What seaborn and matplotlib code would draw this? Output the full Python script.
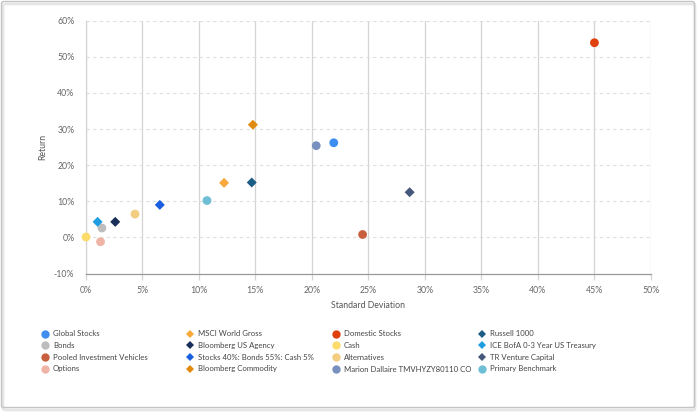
import matplotlib
matplotlib.use("Agg")
import matplotlib.pyplot as plt
import seaborn as sns
import pandas as pd
from matplotlib.lines import Line2D
from matplotlib.patches import FancyBboxPatch
from matplotlib.ticker import FuncFormatter, MultipleLocator

names = [
    "Global Stocks", "MSCI World Gross", "Domestic Stocks", "Russell 1000",
    "Bonds", "Bloomberg US Agency", "Cash", "ICE BofA 0-3 Year US Treasury",
    "Pooled Investment Vehicles", "Stocks 40%: Bonds 55%: Cash 5%", "Alternatives", "TR Venture Capital",
    "Options", "Bloomberg Commodity", "Marion Dallaire TMVHYZY80110 CO", "Primary Benchmark",
]
std_dev = [21.95, 12.25, 45.0, 14.7,
           1.45, 2.63, 0.05, 1.07,
           24.5, 6.57, 4.38, 28.66,
           1.33, 14.8, 20.4, 10.74]
returns = [26.2, 15.1, 53.9, 15.2,
           2.6, 4.3, 0.1, 4.3,
           0.8, 9.0, 6.45, 12.5,
           -1.2, 31.2, 25.4, 10.2]
shapes = ["o", "D", "o", "D",
          "o", "D", "o", "D",
          "o", "D", "o", "D",
          "o", "D", "o", "o"]
colors = ["#3d8ef0", "#f9a93a", "#e0400e", "#1b5d85",
          "#bdbdbd", "#1a2e5a", "#fddc6b", "#1e9de0",
          "#c8603f", "#1a5fe0", "#f3cd80", "#45577a",
          "#f0b4a6", "#e08a0e", "#7890c0", "#6ebfd6"]

df = pd.DataFrame({"name": names, "sd": std_dev, "ret": returns})

sns.set_theme(style="white")
plt.rcParams["font.family"] = ["Lato", "DejaVu Sans"]

W, H = 697, 416
fig = plt.figure(figsize=(W / 100, H / 100), dpi=100)
shadow = FancyBboxPatch((3 / W, 1 - 410 / H), 692 / W, 406 / H,
                        boxstyle="round,pad=0,rounding_size=0.004",
                        transform=fig.transFigure, facecolor="none", edgecolor="#e6e6e6",
                        linewidth=2.0, zorder=4)
border = FancyBboxPatch((1.5 / W, 1 - 407.5 / H), 693 / W, 406 / H,
                        boxstyle="round,pad=0,rounding_size=0.004",
                        transform=fig.transFigure, facecolor="none", edgecolor="#c4c4c4",
                        linewidth=1.0, zorder=5)
fig.patches.extend([shadow, border])

ax = fig.add_axes([85.5 / W, 1 - 273.5 / H, 565.5 / W, 252.8 / H])
ax.set_facecolor("none")

palette = dict(zip(names, colors))
markers = dict(zip(names, shapes))
sizes = {n: (40 if s == "o" else 26) for n, s in zip(names, shapes)}
sns.scatterplot(data=df, x="sd", y="ret", hue="name", style="name", size="name",
                palette=palette, markers=markers, sizes=sizes, hue_order=names,
                style_order=names, size_order=names,
                edgecolor="none", linewidth=0, legend=False, ax=ax, zorder=3)
for coll in ax.collections:
    coll.set_clip_on(False)

ax.set_xlim(0, 50)
ax.set_ylim(-10, 60)
ax.xaxis.set_major_locator(MultipleLocator(5))
ax.yaxis.set_major_locator(MultipleLocator(10))
pct = FuncFormatter(lambda v, p: f"{v:.0f}%")
ax.xaxis.set_major_formatter(pct)
ax.yaxis.set_major_formatter(pct)

ax.grid(axis="x", color="#d4d4d4", linewidth=0.9, linestyle="-", zorder=0)
ax.grid(axis="y", color="#dedede", linewidth=0.8, linestyle=(0, (3, 3)), zorder=0)
for s in ["top", "right"]:
    ax.spines[s].set_visible(False)
ax.spines["left"].set_color("#d4d4d4")
ax.spines["left"].set_linewidth(0.9)
ax.spines["bottom"].set_color("#999999")
ax.spines["bottom"].set_linewidth(0.9)
ax.tick_params(axis="x", bottom=True, length=4, width=0.9, color="#d4d4d4",
               labelsize=6.3, labelcolor="#666666", pad=5, direction="out")
ax.tick_params(axis="y", length=0, labelsize=6.3, labelcolor="#666666", pad=8)
ax.set_xlabel("Standard Deviation", fontsize=6.3, color="#555555", labelpad=4)
ax.set_ylabel("Return", fontsize=6.3, color="#555555", labelpad=5)

handles = [Line2D([], [], marker=m, color=c, linestyle="none",
                  markersize=(6.0 if m == "o" else 4.2), markeredgewidth=0)
           for m, c in zip(shapes, colors)]
ncol = 4
nrow = len(names) // ncol
col_x = [41.5, 186.5, 332.5, 478.5]
for c in range(ncol):
    idx = [r * ncol + c for r in range(nrow)]
    leg = fig.legend([handles[i] for i in idx], [names[i] for i in idx],
                     loc="upper left", bbox_to_anchor=(col_x[c] / W, 1 - 330.5 / H),
                     frameon=False, fontsize=5.6, handlelength=0.9, handletextpad=0.55,
                     labelspacing=0.6, borderaxespad=0, borderpad=0)
    for t in leg.get_texts():
        t.set_color("#444444")

fig.savefig("out.png", dpi=100)
